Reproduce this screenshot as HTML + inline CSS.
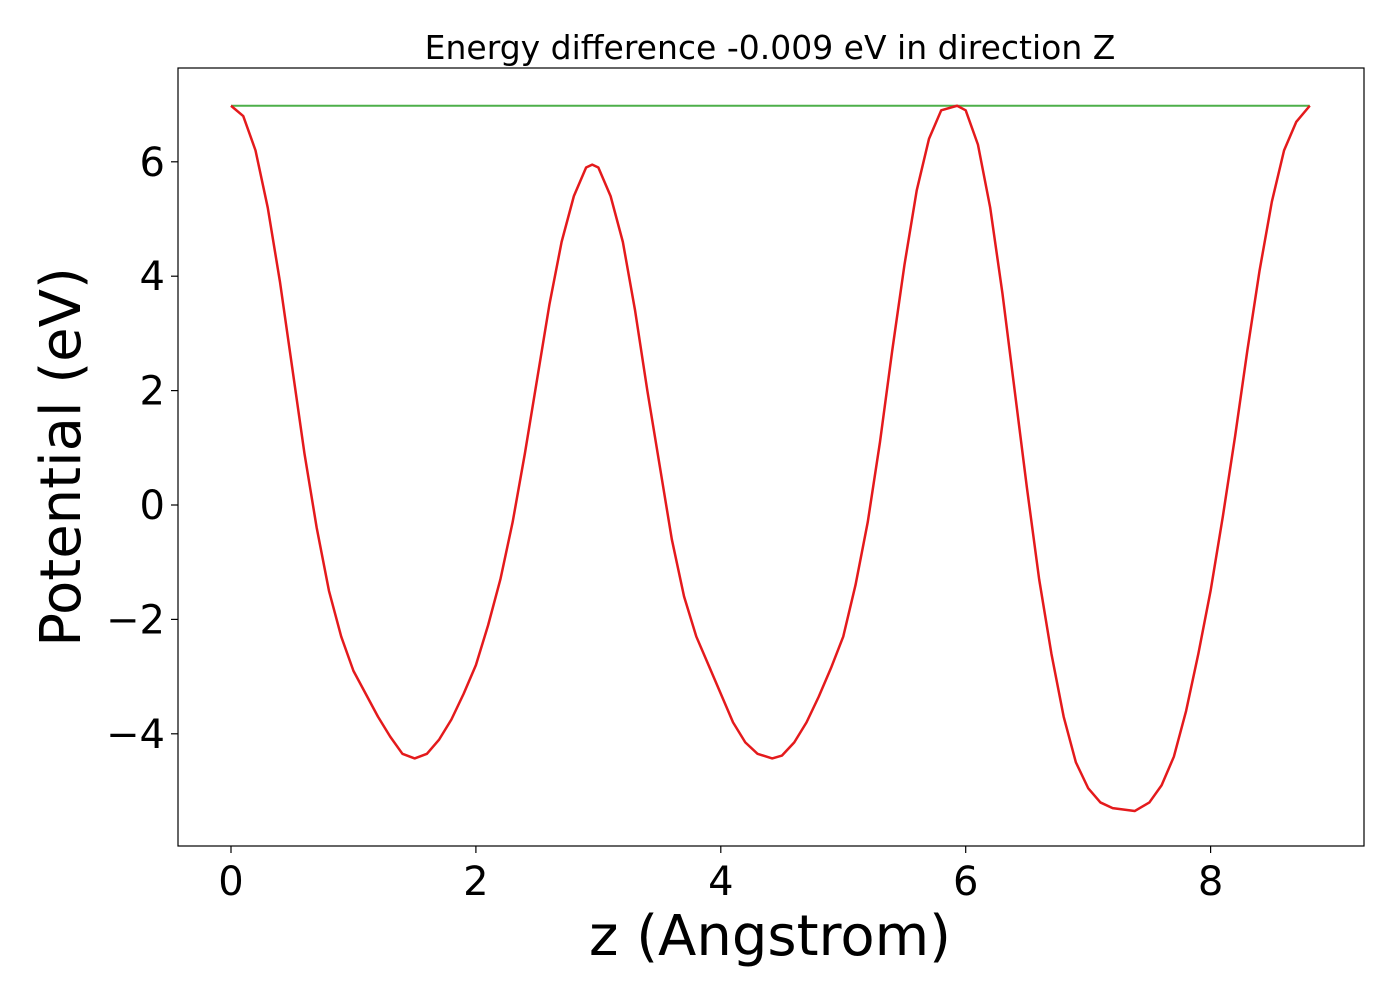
<!DOCTYPE html>
<html><head><meta charset="utf-8"><style>body{margin:0;background:#fff}svg{display:block;font-family:"DejaVu Sans","Liberation Sans",sans-serif}</style></head>
<body>
<svg id="chart" width="1400" height="1000">
<rect x="0" y="0" width="1400" height="1000" fill="#fff"/>
<text x="770" y="59" font-size="33" text-anchor="middle">Energy difference -0.009 eV in direction Z</text>
<g id="marks"></g>
<rect x="178" y="68" width="1186" height="778" fill="none" stroke="#000" stroke-width="1.2"/>
<g id="axes"></g>
<text x="770" y="955" font-size="56" text-anchor="middle">z (Angstrom)</text>
<text transform="translate(80,457) rotate(-90)" font-size="56" text-anchor="middle">Potential (eV)</text>
</svg>
<script>
const zValues=[0,0.1,0.2,0.3,0.4,0.5,0.6,0.7,0.8,0.9,1.0,1.1,1.2,1.3,1.4,1.5,1.6,1.7,1.8,1.9,2.0,2.1,2.2,2.3,2.4,2.5,2.6,2.7,2.8,2.9,2.95,3.0,3.1,3.2,3.3,3.4,3.5,3.6,3.7,3.8,3.9,4.0,4.1,4.2,4.3,4.42,4.5,4.6,4.7,4.8,4.9,5.0,5.1,5.2,5.3,5.4,5.5,5.6,5.7,5.8,5.93,6.0,6.1,6.2,6.3,6.4,6.5,6.6,6.7,6.8,6.9,7.0,7.1,7.2,7.38,7.5,7.6,7.7,7.8,7.9,8.0,8.1,8.2,8.3,8.4,8.5,8.6,8.7,8.81];
const potential=[6.98,6.8,6.2,5.2,3.9,2.4,0.9,-0.4,-1.5,-2.3,-2.9,-3.3,-3.7,-4.05,-4.35,-4.43,-4.35,-4.1,-3.75,-3.3,-2.8,-2.1,-1.3,-0.3,0.9,2.2,3.5,4.6,5.4,5.9,5.95,5.9,5.4,4.6,3.4,2.0,0.7,-0.6,-1.6,-2.3,-2.8,-3.3,-3.8,-4.15,-4.35,-4.43,-4.38,-4.15,-3.8,-3.35,-2.85,-2.3,-1.4,-0.3,1.1,2.7,4.2,5.5,6.4,6.9,6.98,6.9,6.3,5.2,3.7,2.0,0.3,-1.3,-2.6,-3.7,-4.5,-4.95,-5.2,-5.3,-5.35,-5.2,-4.9,-4.4,-3.6,-2.6,-1.5,-0.2,1.2,2.7,4.1,5.3,6.2,6.7,6.98];
const maxLevel=[6.98,6.98];
const maxLevelZ=[0,8.81];
const xTicks=[0,2,4,6,8];
const yTicks=[-4,-2,0,2,4,6];
const sx=v=>231+v*122.45;
const sy=v=>505-v*57.2;
const NS="http://www.w3.org/2000/svg";
const marks=document.getElementById('marks'),axes=document.getElementById('axes');
function mk(tag,attrs,parent){const e=document.createElementNS(NS,tag);for(const k in attrs)e.setAttribute(k,attrs[k]);parent.appendChild(e);return e;}
const g=mk('polyline',{points:maxLevelZ.map((z,i)=>sx(z)+','+sy(maxLevel[i])).join(' '),fill:'none',stroke:'#4daf4a','stroke-width':2},marks);


const r=mk('polyline',{points:zValues.map((z,i)=>sx(z)+','+sy(potential[i])).join(' '),fill:'none',stroke:'#e41a1c','stroke-width':2.5,'stroke-linejoin':'round'},marks);


xTicks.forEach(t=>{const x=sx(t);
 const l=mk('line',{x1:x,x2:x,y1:846,y2:853,stroke:'#000','stroke-width':1.2},axes);
 
 
 const tx=mk('text',{x:x,y:895,'font-size':40,'text-anchor':'middle'},axes);tx.textContent=t;
 
 });
yTicks.forEach(t=>{const y=sy(t);
 const l=mk('line',{x1:171,x2:178,y1:y,y2:y,stroke:'#000','stroke-width':1.2},axes);
 
 
 const tx=mk('text',{x:165,y:y+14,'font-size':40,'text-anchor':'end'},axes);tx.textContent=t<0?'\u2212'+(-t):t;
 
 });
</script>
</body></html>
